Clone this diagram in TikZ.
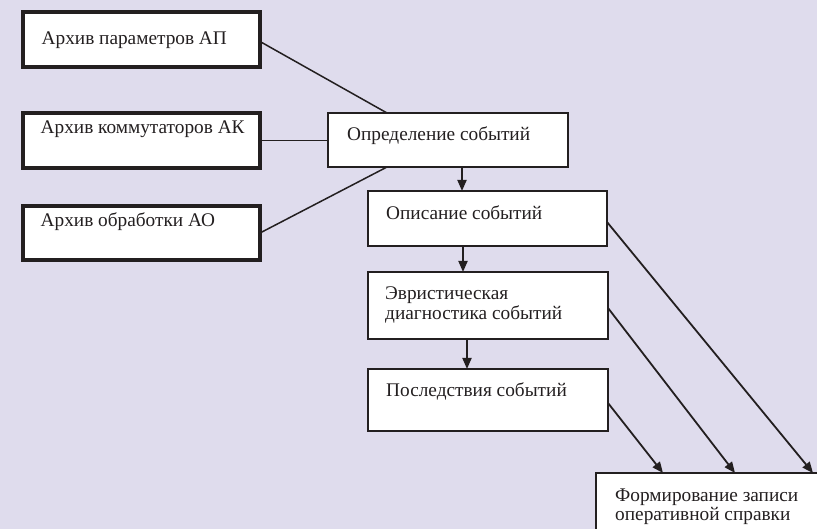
\documentclass[tikz,border=0pt]{standalone}
\usepackage{fontspec}
\setmainfont{Liberation Serif}
\usetikzlibrary{arrows.meta,calc}
\definecolor{bgcol}{RGB}{223,220,237}
\definecolor{ink}{RGB}{35,31,32}
\tikzset{
  thickbox/.style={draw=ink, line width=4.3pt, fill=white, anchor=north west, inner sep=0pt, outer sep=0pt},
  thinbox/.style={draw=ink, line width=1.4pt, fill=white, anchor=north west, inner sep=0pt, outer sep=0pt},
  txt/.style={anchor=base west, inner sep=0pt, text=ink, font=\fontsize{19.3}{20}\selectfont, align=left},
  conn/.style={draw=ink, line width=1.5pt},
  arr/.style={draw=ink, line width=1.8pt, -{Triangle[length=11pt,width=9pt]}},
}
\begin{document}
\begin{tikzpicture}[x=1pt,y=-1pt]
\fill[bgcol] (0,0) rectangle (817,529);
\clip (0,0) rectangle (817,529);
% archive boxes (thick)
\node[thickbox, minimum width=237pt, minimum height=55pt] (ap) at (23,12) {};
\node[thickbox, minimum width=237pt, minimum height=55pt] (ak) at (23,113) {};
\node[thickbox, minimum width=237pt, minimum height=54pt] (ao) at (23,206) {};
% process boxes (thin)
\node[thinbox, minimum width=240pt, minimum height=54pt] (def) at (328,113) {};
\node[thinbox, minimum width=239pt, minimum height=55pt] (desc) at (368,191) {};
\node[thinbox, minimum width=240pt, minimum height=67pt] (heur) at (368,272) {};
\node[thinbox, minimum width=240pt, minimum height=62pt] (cons) at (368,369) {};
\node[thinbox, minimum width=240pt, minimum height=80pt] (form) at (596,473) {};
% texts
\node[txt] (apt) at (41.5,45) {Архив параметров АП};
\node[txt] (akt) at (40.5,133.3) {Архив коммутаторов АК};
\node[txt] (aot) at (40.5,226.7) {Архив обработки АО};
\node[txt] (deft) at (347,140.7) {Определение событий};
\node[txt] (desct) at (386,220) {Описание событий};
\node[txt] (heurt) at (385,319.3) {Эвристическая\\диагностика событий};
\node[txt] (const) at (386,396.7) {Последствия событий};
\node[txt, font=\fontsize{19.3}{18.5}\selectfont] (formt) at (615,520) {Формирование записи\\оперативной справки};
% connectors from archives
\draw[conn] ($(ap.east)+(0,2)$) -- ($(def.north west)+(59,0)$);
\draw[conn] (ak.east) -- (ak.east -| def.west);
\draw[conn] (ao.east) -- ($(def.south west)+(59,0)$);
% vertical arrows
\draw[arr] ($(def.south west)+(134,0)$) -- ($(desc.north west)+(94,0)$);
\draw[arr] ($(desc.south west)+(95,0)$) -- ($(heur.north west)+(95,0)$);
\draw[arr] ($(heur.south west)+(99,0)$) -- ($(cons.north west)+(99,0)$);
% diagonal arrows to form
\draw[arr] ($(desc.east)+(0,3.5)$) -- ($(form.north west)+(217,0)$);
\draw[arr] ($(heur.east)+(0,2.5)$) -- ($(form.north west)+(139,0)$);
\draw[arr] ($(cons.east)+(0,3)$) -- ($(form.north west)+(67,0)$);
\end{tikzpicture}
\end{document}
